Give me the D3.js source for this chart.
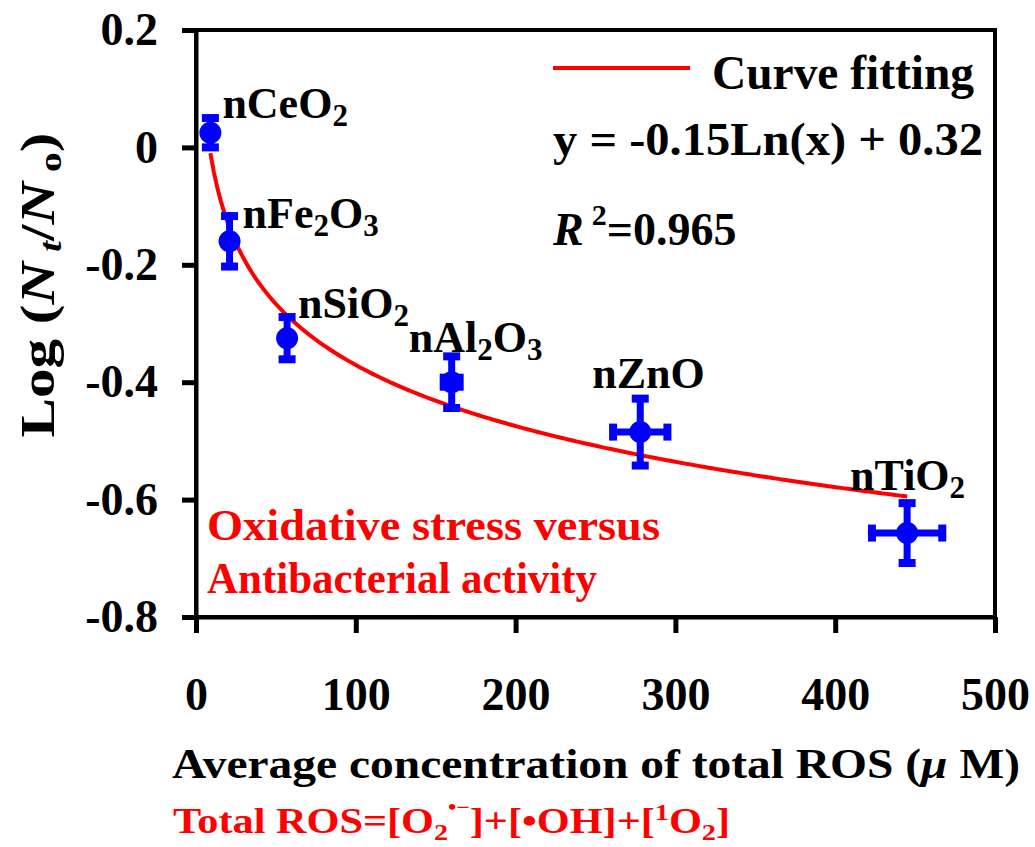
<!DOCTYPE html>
<html>
<head>
<meta charset="utf-8">
<script src="https://cdn.jsdelivr.net/npm/d3@7"></script>
<style>
  body { margin: 0; background: #fff; }
  svg text { font-family: "Liberation Serif", "Times New Roman", serif; font-weight: bold; }
</style>
</head>
<body>
<div id="chart"></div>
<script>
// data
const names = ["nCeO2", "nFe2O3", "nSiO2", "nAl2O3", "nZnO", "nTiO2"];
const rosValues = [9, 21, 57, 160, 278, 445];
const rosErrors = [0, 0, 0, 5, 17, 22];
const logValues = [0.025, -0.16, -0.325, -0.4, -0.485, -0.657];
const logErrors = [0.025, 0.043, 0.036, 0.044, 0.057, 0.051];
const xTicks = [0, 100, 200, 300, 400, 500];
const yTicks = [0.2, 0, -0.2, -0.4, -0.6, -0.8];
const fitA = -0.15, fitB = 0.32; // y = a ln(x) + b
const fitRange = [9, 445];

// label offsets (px) from each point
const labelDx = [12, 13, 11, -43, -48, -57];
const labelDy = [-15, -13, -20, -30, -44, -43];

const width = 1035, height = 847;
const margin = { top: 30, left: 196, right: 40, bottom: 230 };
const W = width - margin.left - margin.right;
const H = height - margin.top - margin.bottom;

const svg = d3.select("#chart").append("svg")
  .attr("width", width).attr("height", height);

const x = d3.scaleLinear().domain([0, 500]).range([margin.left, margin.left + W]);
const y = d3.scaleLinear().domain([-0.8, 0.2]).range([margin.top + H, margin.top]);

const blue = "#0000ff", red = "#ff0000";

// frame
svg.append("rect")
  .attr("x", x(0)).attr("y", y(0.2))
  .attr("width", x(500) - x(0)).attr("height", y(-0.8) - y(0.2))
  .attr("fill", "none").attr("stroke", "#000").attr("stroke-width", 4);

// x axis
const xAxis = svg.append("g")
  .attr("transform", `translate(0,${y(-0.8)})`)
  .call(d3.axisBottom(x).tickValues(xTicks).tickSize(16).tickSizeOuter(0).tickPadding(44).tickFormat(d3.format("d")));
xAxis.select(".domain").attr("stroke-width", 4);
xAxis.selectAll(".tick line").attr("stroke-width", 5);
xAxis.selectAll(".tick text").attr("font-size", 46).attr("fill", "#000")
  .attr("font-family", "Liberation Serif").attr("font-weight", "bold");

// y axis
const yAxis = svg.append("g")
  .attr("transform", `translate(${x(0)},0)`)
  .call(d3.axisLeft(y).tickValues(yTicks).tickSize(14).tickSizeOuter(0).tickPadding(24)
    .tickFormat(d => d === 0 ? "0" : d.toFixed(1)));
yAxis.select(".domain").attr("stroke-width", 4);
yAxis.selectAll(".tick line").attr("stroke-width", 5);
yAxis.selectAll(".tick text").attr("font-size", 46).attr("fill", "#000")
  .attr("font-family", "Liberation Serif").attr("font-weight", "bold");

// fitted curve
const curvePts = d3.range(0, 201).map(i => {
  const xv = fitRange[0] + (fitRange[1] - fitRange[0]) * i / 200;
  return [xv, fitA * Math.log(xv) + fitB];
});
svg.append("path")
  .datum(curvePts)
  .attr("fill", "none").attr("stroke", red).attr("stroke-width", 4)
  .attr("d", d3.line().x(d => x(d[0])).y(d => y(d[1])));

// points with error bars
const pts = names.map((n, i) => ({ name: n, xv: rosValues[i], xe: rosErrors[i], yv: logValues[i], ye: logErrors[i], i }));
const g = svg.selectAll(".pt").data(pts).enter().append("g").attr("class", "pt");
const capW = 17, capT = 8;
g.append("line")
  .attr("x1", d => x(d.xv)).attr("x2", d => x(d.xv))
  .attr("y1", d => y(d.yv + d.ye)).attr("y2", d => y(d.yv - d.ye))
  .attr("stroke", blue).attr("stroke-width", 7);
g.filter(d => d.ye > 0).each(function (d) {
  const s = d3.select(this);
  [d.yv + d.ye, d.yv - d.ye].forEach(v => {
    s.append("rect").attr("x", x(d.xv) - capW / 2).attr("y", y(v) - capT / 2)
      .attr("width", capW).attr("height", capT).attr("fill", blue);
  });
});
g.filter(d => d.xe > 0).each(function (d) {
  const s = d3.select(this);
  s.append("line")
    .attr("x1", x(d.xv - d.xe)).attr("x2", x(d.xv + d.xe))
    .attr("y1", y(d.yv)).attr("y2", y(d.yv))
    .attr("stroke", blue).attr("stroke-width", 7);
  [d.xv - d.xe, d.xv + d.xe].forEach(v => {
    s.append("rect").attr("x", x(v) - capT / 2).attr("y", y(d.yv) - capW / 2)
      .attr("width", capT).attr("height", capW).attr("fill", blue);
  });
});
g.append("circle")
  .attr("cx", d => x(d.xv)).attr("cy", d => y(d.yv)).attr("r", 11)
  .attr("fill", blue);

// point labels with subscripts
function chem(sel, name) {
  const parts = name.match(/[A-Za-z]+|\d+/g);
  let shift = 0;
  parts.forEach(p => {
    const sub = /\d/.test(p);
    const t = sel.append("tspan").text(p);
    const target = sub ? 8 : 0;
    if (target !== shift) t.attr("dy", target - shift);
    if (sub) t.attr("font-size", 31);
    shift = target;
  });
}
g.append("text")
  .attr("x", d => x(d.xv) + labelDx[d.i]).attr("y", d => y(d.yv) + labelDy[d.i])
  .attr("font-size", 44).attr("fill", "#000")
  .each(function (d) { chem(d3.select(this), d.name); });

// legend
const lx = 553;
svg.append("line").attr("x1", lx).attr("x2", 690).attr("y1", 68).attr("y2", 68)
  .attr("stroke", red).attr("stroke-width", 4);
svg.append("text").attr("x", 712).attr("y", 89).attr("font-size", 48).attr("fill", "#000")
  .attr("textLength", 262).attr("lengthAdjust", "spacingAndGlyphs").text("Curve fitting");
svg.append("text").attr("x", lx).attr("y", 155).attr("font-size", 46).attr("fill", "#000")
  .attr("textLength", 430).attr("lengthAdjust", "spacingAndGlyphs")
  .text("y = -0.15Ln(x) + 0.32");
const r2 = svg.append("text").attr("x", lx).attr("y", 245).attr("font-size", 46).attr("fill", "#000");
r2.append("tspan").attr("font-style", "italic").text("R");
r2.append("tspan").attr("font-size", 30).attr("dy", -20).attr("dx", 8).text("2");
r2.append("tspan").attr("dy", 20).text("=0.965");

// annotation
svg.append("text").attr("x", 207).attr("y", 540).attr("font-size", 44).attr("fill", red)
  .attr("textLength", 453).attr("lengthAdjust", "spacingAndGlyphs").text("Oxidative stress versus");
svg.append("text").attr("x", 207).attr("y", 593).attr("font-size", 44).attr("fill", red)
  .attr("textLength", 390).attr("lengthAdjust", "spacingAndGlyphs").text("Antibacterial activity");

// y title
const yt = svg.append("text")
  .attr("transform", "translate(54,285) rotate(-90)")
  .attr("text-anchor", "middle").attr("font-size", 48).attr("fill", "#000")
  .attr("textLength", 305).attr("lengthAdjust", "spacingAndGlyphs");
yt.append("tspan").text("Log (");
yt.append("tspan").attr("font-style", "italic").text("N");
yt.append("tspan").attr("font-size", 32).attr("font-style", "italic").attr("dy", 7).text(" t");
yt.append("tspan").attr("dy", -7).text("/");
yt.append("tspan").attr("font-style", "italic").text("N");
yt.append("tspan").attr("font-size", 32).attr("dy", 7).text(" o");
yt.append("tspan").attr("dy", -7).text(")");

// x title
const xt = svg.append("text").attr("x", 172).attr("y", 778).attr("font-size", 42).attr("fill", "#000")
  .attr("textLength", 848).attr("lengthAdjust", "spacingAndGlyphs");
xt.append("tspan").text("Average  concentration of total ROS (");
xt.append("tspan").attr("font-style", "italic").text("\u03bc");
xt.append("tspan").text(" M)");

// formula line
const ft = svg.append("text").attr("x", 173).attr("y", 833).attr("font-size", 36).attr("fill", red)
  .attr("textLength", 557).attr("lengthAdjust", "spacingAndGlyphs");
ft.append("tspan").text("Total ROS=[O");
ft.append("tspan").attr("font-size", 24).attr("dy", 7).text("2");
ft.append("tspan").attr("font-size", 20).attr("dy", -26).text("\u2022\u2212");
ft.append("tspan").attr("dy", 19).text("]+[\u2022OH]+[");
ft.append("tspan").attr("font-size", 24).attr("dy", -13).text("1");
ft.append("tspan").attr("dy", 13).text("O");
ft.append("tspan").attr("font-size", 24).attr("dy", 7).text("2");
ft.append("tspan").attr("dy", -7).text("]");
</script>
</body>
</html>
